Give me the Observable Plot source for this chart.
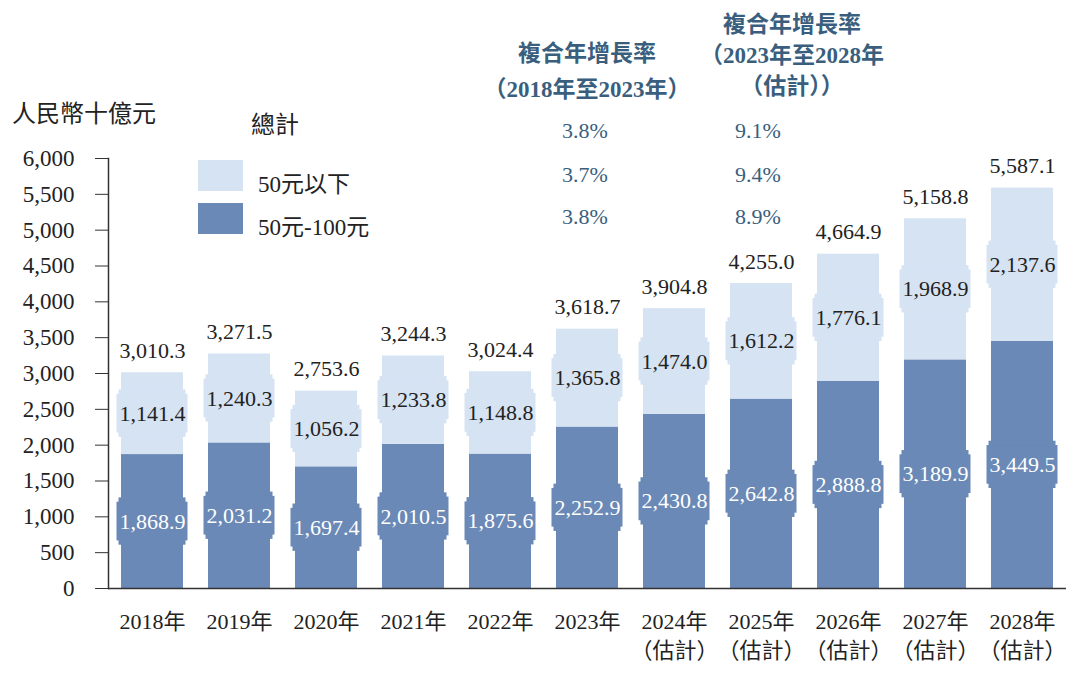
<!DOCTYPE html>
<html>
<head>
<meta charset="utf-8">
<script src="https://cdn.jsdelivr.net/npm/d3@7"></script>
<script src="https://cdn.jsdelivr.net/npm/@observablehq/plot@0.6"></script>
<style>
  html, body { margin: 0; padding: 0; background: #fff; }
  #wrap { position: relative; width: 1080px; height: 677px; overflow: hidden;
    font-family: "Liberation Serif", "Noto Sans CJK TC", serif; color: #222; }
  #wrap svg { position: absolute; left: 0; top: 0; }
  .ov { position: absolute; white-space: nowrap; }
  .hdr { font-family: "Liberation Serif", "Noto Sans CJK TC", serif; font-weight: bold; color: #3a5f7e; font-size: 23px; transform: translateX(-50%); text-align: center; }
  .pct { color: #3a5f7e; font-size: 22px; transform: translateX(-50%); }
  .sw { position: absolute; width: 45px; height: 31px; }
</style>
</head>
<body>
<div id="wrap"></div>
<script>
const years = ["2018年","2019年","2020年","2021年","2022年","2023年","2024年","2025年","2026年","2027年","2028年"];
const forecast = [false,false,false,false,false,false,true,true,true,true,true];
const below50 = [1141.4,1240.3,1056.2,1233.8,1148.8,1365.8,1474.0,1612.2,1776.1,1968.9,2137.6];
const from50to100 = [1868.9,2031.2,1697.4,2010.5,1875.6,2252.9,2430.8,2642.8,2888.8,3189.9,3449.5];
const totals = [3010.3,3271.5,2753.6,3244.3,3024.4,3618.7,3904.8,4255.0,4664.9,5158.8,5587.1];
const yTicks = [0,500,1000,1500,2000,2500,3000,3500,4000,4500,5000,5500,6000];
const seriesNames = ["50元以下","50元-100元"];
const cagrHist = ["3.8%","3.7%","3.8%"];
const cagrFcst = ["9.1%","9.4%","8.9%"];

const cLight = "#d5e3f3";
const cDark = "#6a89b6";
const font = "Liberation Serif, Noto Sans CJK TC, serif";
const fmt = d3.format(",.1f");

const rows = years.map((y, i) => ({year: y, dark: from50to100[i], light: below50[i], total: totals[i], fc: forecast[i]}));
const segs = [];
rows.forEach(r => {
  segs.push({year: r.year, series: seriesNames[1], y1: 0, y2: r.dark, v: r.dark, fill: cDark, tc: "#fff"});
  segs.push({year: r.year, series: seriesNames[0], y1: r.dark, y2: r.dark + r.light, v: r.light, fill: cLight, tc: "#222"});
});
segs.forEach(s => s.mid = (s.y1 + s.y2) / 2);

const labelOf = new Map(rows.map(r => [r.year, r.fc ? r.year + "\n（估計）" : r.year]));

const chart = Plot.plot({
  width: 1080,
  height: 677,
  marginTop: 158,
  marginBottom: 89,
  marginLeft: 108,
  marginRight: 14,
  style: {fontFamily: font, fontSize: "22px", color: "#222", background: "transparent"},
  x: {domain: years, paddingInner: 0.29, paddingOuter: 0.15, label: null},
  y: {domain: [0, 6000], label: null},
  marks: [
    Plot.barY(segs, {x: "year", y1: "y1", y2: "y2", fill: "fill"}),
    Plot.barY(segs, {x: "year", y1: d => d.mid - 330, y2: d => d.mid + 330, fill: "fill", insetLeft: -2.5, insetRight: -2.5}),
    Plot.barY(segs, {x: "year", y1: d => d.mid - 270, y2: d => d.mid + 270, fill: "fill", insetLeft: -4.5, insetRight: -4.5}),
    Plot.text(segs, {x: "year", y: "mid", text: d => fmt(d.v), fill: "tc", fontSize: 22, fontFamily: font}),
    Plot.text(rows, {x: "year", y: "total", text: d => fmt(d.total), dy: -22, fill: "#222", fontSize: 22, fontFamily: font}),
    Plot.axisY({ticks: yTicks, tickSize: 13, tickPadding: 21, tickFormat: d3.format(","), fontSize: 23, stroke: "#333", fill: "#222"}),
    Plot.axisX({tickSize: 0, tickPadding: 19, tickFormat: d => labelOf.get(d), fontSize: 22, lineHeight: 1.35, fill: "#222"}),
    Plot.frame({anchor: "left", stroke: "#333", strokeWidth: 1.5}),
    Plot.ruleY([0], {stroke: "#333", strokeWidth: 1.5})
  ]
});

const wrap = document.getElementById("wrap");
wrap.appendChild(chart);

function ov(html, css, cls) {
  const d = document.createElement("div");
  d.className = "ov " + (cls || "");
  d.innerHTML = html;
  Object.assign(d.style, css);
  wrap.appendChild(d);
  return d;
}
// axis title and legend
ov("人民幣十億元", {left: "12px", top: "94px", fontSize: "24px"});
ov("總計", {left: "251px", top: "105px", fontSize: "24px"});
const sw1 = document.createElement("div"); sw1.className = "sw"; Object.assign(sw1.style, {left: "198px", top: "160px", background: cLight}); wrap.appendChild(sw1);
const sw2 = document.createElement("div"); sw2.className = "sw"; Object.assign(sw2.style, {left: "198px", top: "203px", background: cDark}); wrap.appendChild(sw2);
ov(seriesNames[0], {left: "258px", top: "165px", fontSize: "23px"});
ov(seriesNames[1], {left: "258px", top: "208px", fontSize: "23px"});

// CAGR headers
ov("複合年增長率<br>（2018年至2023年）", {left: "587px", top: "36px", lineHeight: "36px"}, "hdr");
ov("複合年增長率<br>（2023年至2028年<br>（估計））", {left: "792px", top: "9px", lineHeight: "31px"}, "hdr");
const rowTops = [118, 162, 204];
cagrHist.forEach((t, i) => ov(t, {left: "585px", top: rowTops[i] + "px"}, "pct"));
cagrFcst.forEach((t, i) => ov(t, {left: "758px", top: rowTops[i] + "px"}, "pct"));
</script>
</body>
</html>
